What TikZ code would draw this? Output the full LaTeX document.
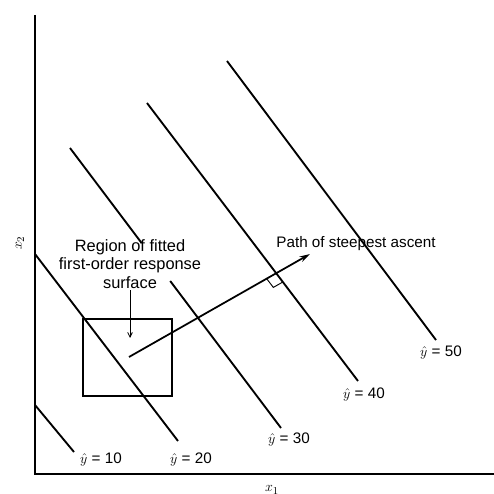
\documentclass[tikz,border=0pt]{standalone}
\usepackage{fontspec}
\setmainfont{Liberation Sans}
\usetikzlibrary{arrows.meta, calc}
\begin{document}
\begin{tikzpicture}[x=0.03cm, y=0.03cm, line width=1.5pt,
    lbl/.style={font=\fontsize{13}{15.5}\selectfont, inner sep=1pt},
    contour/.style={line width=1.6pt}]
    \useasboundingbox (0,0) rectangle (494,493);
    % axes
    \draw[line width=1.3pt] (35,478) -- (35,19) -- (494,19);
    \node[lbl] (xone) at (272,3) {$x_1$};
    \node[lbl, rotate=90] (xtwo) at (20,250) {$x_2$};

    % contours of the fitted surface
    \draw[contour] (35,88) -- (74,41);
    \draw[contour] (35,239) -- (178,52);
    % broken where it runs under the region label
    \draw[contour] (70,345) -- (141.6,250);
    \draw[contour] (170.2,212) -- (281,65);
    \draw[contour] (147,390) coordinate (fortya) -- (358,112) coordinate (fortyb);
    \draw[contour] (227,432) -- (436,153);
    \node[lbl] (yten) at (101,33) {$\hat{y}$ = 10};
    \node[lbl] (ytwenty) at (191,33) {$\hat{y}$ = 20};
    \node[lbl] (ythirty) at (289,53) {$\hat{y}$ = 30};
    \node[lbl] (yforty) at (364,98) {$\hat{y}$ = 40};
    \node[lbl] (yfifty) at (441,140) {$\hat{y}$ = 50};

    % region of the first-order fit
    \draw (83,174) rectangle (172,97);
    \node[lbl, font=\fontsize{14}{15.5}\selectfont, align=center] (region) at (130,229)
        {Region of fitted\\first-order response\\surface};
    \coordinate (boxpt) at (130,155);
    \draw[line width=0.7pt, -{Straight Barb[length=4pt, width=4pt]}] (region.south) -- (boxpt);

    % path of steepest ascent
    \coordinate (start) at (129,136);
    \coordinate (tip) at (310,239);
    \draw[-{Stealth[length=9pt, width=5pt, inset=3pt]}] (start) -- (tip);
    \node[lbl] (pathlbl) at (356,249) {Path of steepest ascent};
    \coordinate (P) at (intersection of start--tip and fortya--fortyb);
    \coordinate (ra) at ($(P)!0.33cm!(start)$);
    \coordinate (rb) at ($(P)!0.33cm!(fortyb)$);
    \draw[line width=0.8pt] (ra) -- ($(ra)+(rb)-(P)$) -- (rb);
\end{tikzpicture}
\end{document}
